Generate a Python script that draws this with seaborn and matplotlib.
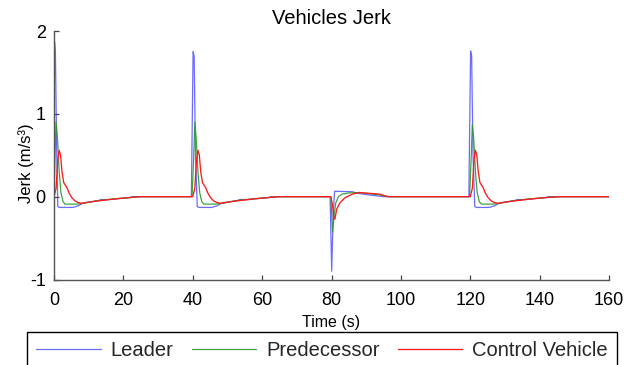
import matplotlib
matplotlib.use("Agg")
import matplotlib.pyplot as plt
import seaborn as sns
import pandas as pd

# ---------------- data ----------------
leader_t = [0, 0.15, 0.4, 0.8, 1.1, 1.6, 5.5, 7.0, 8.5, 11, 13, 13.5, 16, 18, 20, 22, 22.5, 25,
            39.6, 40.1, 40.4, 40.8, 41.3, 41.8, 45.5, 47.0, 48.5, 51, 53, 53.5, 56, 58, 60, 62, 62.5, 65,
            79.6, 80.05, 80.5, 80.9, 86, 87.5, 91, 95,
            119.6, 120.1, 120.4, 120.8, 121.3, 121.8, 125.5, 127.0, 128.5, 131, 133, 133.5, 136, 138, 140, 142, 142.5, 146, 160]
leader_v = [0, 1.87, 1.75, 0.5, -0.12, -0.13, -0.13, -0.11, -0.075, -0.06, -0.045, -0.035, -0.035, -0.025, -0.02, -0.01, 0.0, 0,
            0, 1.75, 1.7, 0.5, -0.12, -0.13, -0.13, -0.11, -0.075, -0.06, -0.045, -0.035, -0.035, -0.025, -0.02, -0.01, 0.0, 0,
            0, -0.9, -0.2, 0.065, 0.06, 0.04, 0.02, 0,
            0, 1.76, 1.7, 0.5, -0.12, -0.13, -0.13, -0.11, -0.075, -0.06, -0.045, -0.035, -0.035, -0.025, -0.02, -0.01, 0.0, 0, 0]

pred_t = [0, 0.3, 0.6, 1.0, 1.5, 2.0, 2.6, 3.2, 6.6, 8.5, 11, 14, 18, 22, 25,
          39.8, 40.3, 40.6, 41.0, 41.5, 42.0, 42.6, 43.2, 46.6, 48.5, 51, 54, 58, 62, 65,
          79.8, 80.3, 80.7, 81.2, 82, 83, 85, 88, 91, 94, 97,
          119.8, 120.3, 120.6, 121.0, 121.5, 122.0, 122.6, 123.2, 126.6, 128.5, 131, 134, 138, 142, 146, 160]
pred_v = [0, 0.5, 0.9, 0.7, 0.3, 0.05, -0.06, -0.09, -0.09, -0.08, -0.06, -0.04, -0.025, -0.01, 0,
          0, 0.5, 0.9, 0.7, 0.3, 0.05, -0.06, -0.09, -0.09, -0.08, -0.06, -0.04, -0.025, -0.01, 0,
          0, -0.43, -0.25, -0.08, 0.0, 0.03, 0.045, 0.05, 0.035, 0.02, 0,
          0, 0.5, 0.87, 0.7, 0.3, 0.05, -0.06, -0.09, -0.09, -0.08, -0.06, -0.04, -0.025, -0.01, 0, 0]

ctrl_t = [0, 0.6, 1.1, 1.5, 1.9, 2.3, 2.8, 3.7, 4.4, 5.1, 6.0, 6.9, 8, 11, 14, 18, 22, 25,
          40.0, 40.6, 41.1, 41.5, 41.9, 42.3, 42.8, 43.7, 44.4, 45.1, 46.0, 46.9, 48, 51, 54, 58, 62, 65,
          79.8, 80.3, 80.7, 81.0, 81.5, 82.5, 84, 86, 88, 91, 94, 96,
          120.0, 120.6, 121.1, 121.5, 121.9, 122.3, 122.8, 123.7, 124.4, 125.1, 126.0, 126.9, 128, 131, 134, 138, 142, 146, 160]
ctrl_v = [0, 0.1, 0.45, 0.56, 0.5, 0.3, 0.17, 0.11, 0.04, -0.01, -0.05, -0.07, -0.08, -0.06, -0.045, -0.025, -0.01, 0,
          0, 0.1, 0.45, 0.56, 0.5, 0.3, 0.17, 0.11, 0.04, -0.01, -0.05, -0.07, -0.08, -0.06, -0.045, -0.025, -0.01, 0,
          0, -0.1, -0.27, -0.27, -0.15, -0.07, -0.01, 0.03, 0.05, 0.04, 0.03, 0,
          0, 0.1, 0.45, 0.56, 0.5, 0.3, 0.17, 0.11, 0.04, -0.01, -0.05, -0.07, -0.08, -0.06, -0.045, -0.025, -0.01, 0, 0]

series_names = ["Leader", "Predecessor", "Control Vehicle"]
series_colors = ["#3a3aff", "#2a9a2a", "#ff1a1a"]
x_ticks = [0, 20, 40, 60, 80, 100, 120, 140, 160]
y_ticks = [-1, 0, 1, 2]

# ---------------- plotting ----------------
sns.set_theme(style="ticks")
plt.rcParams["font.family"] = ["Liberation Sans", "DejaVu Sans"]
plt.rcParams["axes.unicode_minus"] = False

fig = plt.figure(figsize=(6.27, 3.65), dpi=100)
ax = fig.add_axes([54 / 627, 1 - 279.5 / 365, 555 / 627, 248.5 / 365])

frames = [
    pd.DataFrame({"t": leader_t, "v": leader_v}),
    pd.DataFrame({"t": pred_t, "v": pred_v}),
    pd.DataFrame({"t": ctrl_t, "v": ctrl_v}),
]
widths = [0.9, 0.9, 0.95]
alphas = [0.75, 0.9, 1.0]
handles = []
for df, c, w, a in zip(frames, series_colors, widths, alphas):
    n_before = len(ax.get_lines())
    sns.lineplot(data=df, x="t", y="v", ax=ax, color=c, linewidth=w, alpha=a,
                 estimator=None, sort=False, legend=False)
    handles.append(ax.get_lines()[n_before])

ax.set_xlim(0, 160)
ax.set_ylim(-1, 2)
ax.set_xticks(x_ticks)
ax.set_yticks(y_ticks)
ax.set_xticklabels([str(v) for v in x_ticks])
ax.set_yticklabels([str(v) for v in y_ticks])

for s in ["top", "right"]:
    ax.spines[s].set_visible(False)
for s in ["left", "bottom"]:
    ax.spines[s].set_color("#555555")
    ax.spines[s].set_linewidth(1.0)
ax.tick_params(direction="in", length=3.5, width=0.9, color="#444444",
               labelsize=13, labelcolor="black")
ax.tick_params(axis="x", pad=9)
ax.tick_params(axis="y", pad=6)

ax.set_title("Vehicles Jerk", fontsize=14.5, pad=5, color="black")
ax.set_xlabel("Time (s)", fontsize=11.5, labelpad=4, color="black")
ax.set_ylabel("Jerk (m/s³)", fontsize=12, color="black")
ax.yaxis.label.set_va("center")
ax.yaxis.set_label_coords(-0.05, 0.47)

leg = ax.legend(handles, series_names, ncol=3, loc="upper left",
                bbox_to_anchor=(27 / 627, 0.0, 590 / 627, 1 - 332 / 365),
                bbox_transform=fig.transFigure, mode="expand",
                fontsize=14.5, frameon=True, fancybox=False, shadow=False,
                handlelength=3.2, handletextpad=0.5, columnspacing=0.75,
                borderpad=0.45, borderaxespad=0)
leg.get_frame().set_edgecolor("black")
leg.get_frame().set_linewidth(1.0)
leg.get_frame().set_facecolor("white")
leg.get_frame().set_alpha(1)

fig.savefig("out.png", dpi=100)
